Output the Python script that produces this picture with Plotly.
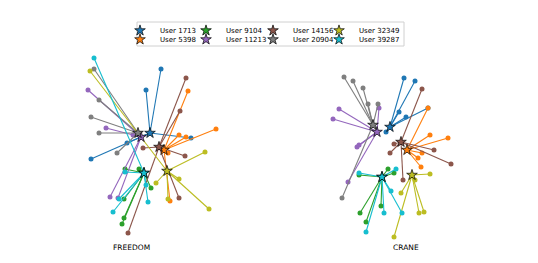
import plotly.graph_objects as go

USERS = ["User 1713", "User 5398", "User 9104", "User 11213",
         "User 14156", "User 20904", "User 32349", "User 39287"]
COLORS = ["#1f77b4", "#ff7f0e", "#2ca02c", "#9467bd",
          "#8c564b", "#7f7f7f", "#bcbd22", "#17becf"]
# legend grid position of each user (row, column)
LEGEND_ROW = [0, 1, 0, 1, 0, 1, 0, 1]
LEGEND_COL = [0, 0, 1, 1, 2, 2, 3, 3]

# ---- FREEDOM panel: user centres and the nodes they link to ----
FREEDOM_CX = [150, 164, 144, 141, 159, 138, 167, 144]
FREEDOM_CY = [133, 150, 173, 137, 147, 133, 171, 173]
FREEDOM_NX = [
    [161, 146, 191, 91, 127],
    [188, 216, 179, 186, 170, 168],
    [139, 151, 124, 124, 122, 125],
    [88, 106, 133, 110, 118],
    [186, 180, 143, 185, 179, 128],
    [94, 99, 91, 99, 117],
    [90, 205, 156, 179, 168, 209],
    [94, 125, 146, 148, 113, 119],
]
FREEDOM_NY = [
    [69, 90, 138, 159, 143],
    [91, 129, 135, 137, 201, 153],
    [169, 188, 199, 218, 224, 169],
    [90, 128, 135, 197, 198],
    [78, 111, 148, 156, 198, 233],
    [69, 100, 117, 133, 153],
    [71, 152, 183, 179, 199, 209],
    [58, 172, 185, 202, 212, 199],
]

# ---- CRANE panel ----
CRANE_CX = [390, 407, 382, 377, 401, 373, 412, 382]
CRANE_CY = [127, 150, 177, 132, 142, 125, 175, 177]
CRANE_NX = [
    [404, 415, 399, 406, 428, 386],
    [428, 430, 448, 422, 418, 421],
    [359, 388, 394, 381, 360, 366],
    [339, 333, 379, 357, 359, 348],
    [422, 434, 451, 390, 403, 394],
    [344, 353, 363, 368, 378, 342],
    [401, 415, 430, 419, 424, 394],
    [359, 396, 391, 384, 402, 366],
]
CRANE_NY = [
    [78, 81, 112, 117, 108, 132],
    [108, 135, 138, 153, 158, 167],
    [175, 169, 173, 206, 213, 222],
    [109, 119, 108, 147, 145, 182],
    [89, 150, 164, 153, 180, 144],
    [77, 81, 88, 104, 104, 198],
    [193, 180, 174, 213, 212, 237],
    [173, 169, 191, 213, 213, 232],
]

PANEL_LABELS = ["FREEDOM", "CRANE"]
PANEL_LABEL_X = [131, 406]

# The page body keeps its default 8px margin, so the figure is drawn at
# (8, 8); the canvas coordinate frame is offset by the same amount.
OFF = 8
W, H = 538 - 2 * OFF, 263 - 2 * OFF
fig = go.Figure()

panels = [(FREEDOM_CX, FREEDOM_CY, FREEDOM_NX, FREEDOM_NY),
          (CRANE_CX, CRANE_CY, CRANE_NX, CRANE_NY)]

for cxs, cys, nxs, nys in panels:
    for i, user in enumerate(USERS):
        lx, ly = [], []
        for px, py in zip(nxs[i], nys[i]):
            lx += [cxs[i], px, None]
            ly += [cys[i], py, None]
        fig.add_trace(go.Scatter(x=lx, y=ly, mode="lines",
                                 line=dict(color=COLORS[i], width=1.1),
                                 showlegend=False, hoverinfo="skip"))
        fig.add_trace(go.Scatter(x=nxs[i], y=nys[i], mode="markers",
                                 marker=dict(color=COLORS[i], size=5),
                                 showlegend=False, hoverinfo="skip"))

legends = {}
for p, (cxs, cys, nxs, nys) in enumerate(panels):
    for i, user in enumerate(USERS):
        key = "legend" if i == 0 else f"legend{i + 1}"
        fig.add_trace(go.Scatter(
            x=[cxs[i]], y=[cys[i]], mode="markers", name=user,
            legend=key, showlegend=(p == 0), hoverinfo="skip",
            marker=dict(symbol="star", size=8, color=COLORS[i],
                        line=dict(color="black", width=0.7))))
        if p == 0:
            # one single-entry legend per grid cell
            left_px = 120 + 66 * LEGEND_COL[i] + (1 if LEGEND_COL[i] > 1 else 0)
            top_px = 16 + 9 * LEGEND_ROW[i]
            legends[key] = dict(
                x=(left_px - OFF) / W, y=1 - (top_px - OFF) / H,
                xanchor="left", yanchor="top", orientation="v",
                bgcolor="rgba(0,0,0,0)", borderwidth=0, itemwidth=30,
                font=dict(size=7, family="DejaVu Sans", color="black"))

for lab, lx in zip(PANEL_LABELS, PANEL_LABEL_X):
    fig.add_annotation(x=lx, y=247, text=lab, showarrow=False,
                       xref="x", yref="y",
                       font=dict(size=7.5, color="black"))

# legend frame
fig.add_shape(type="rect", xref="paper", yref="paper",
              x0=(137 - OFF) / W, x1=(404 - OFF) / W,
              y0=1 - (46 - OFF) / H, y1=1 - (22 - OFF) / H,
              line=dict(color="#d0d0d0", width=1), fillcolor="white",
              layer="below")

fig.update_xaxes(range=[OFF, OFF + W], visible=False)
fig.update_yaxes(range=[OFF + H, OFF], visible=False)
fig.update_layout(
    width=W, height=H,
    margin=dict(l=0, r=0, t=0, b=0),
    plot_bgcolor="white", paper_bgcolor="white",
    font=dict(family="DejaVu Sans", size=7, color="black"),
    **legends,
)

fig.write_html("out.html")
